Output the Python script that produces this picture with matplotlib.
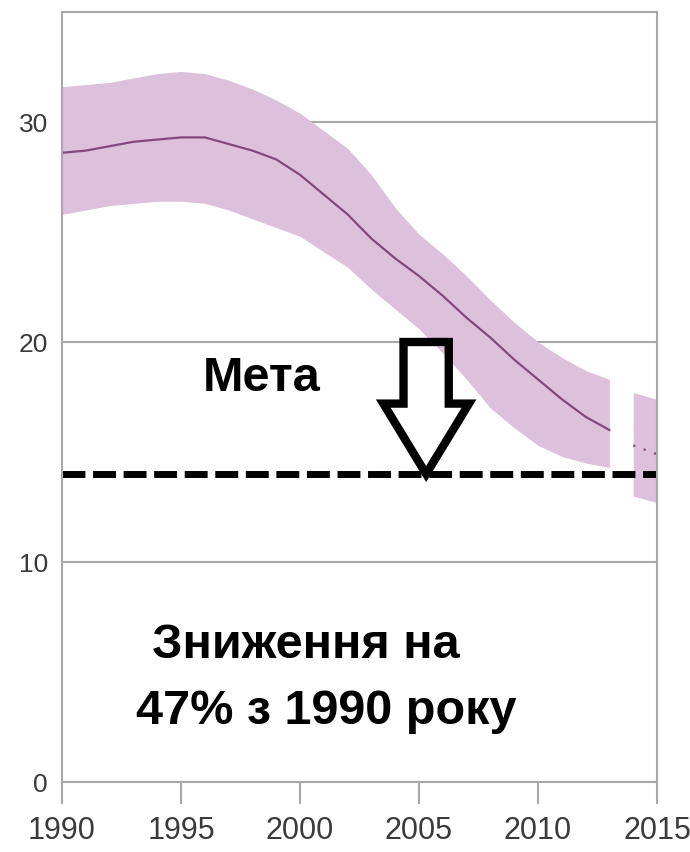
import matplotlib
matplotlib.use("Agg")
import matplotlib.pyplot as plt
from matplotlib.patches import FancyArrow

# data
years = [1990, 1991, 1992, 1993, 1994, 1995, 1996, 1997, 1998, 1999, 2000, 2001,
         2002, 2003, 2004, 2005, 2006, 2007, 2008, 2009, 2010, 2011, 2012, 2013]
rate = [28.6, 28.7, 28.9, 29.1, 29.2, 29.3, 29.3, 29.0, 28.7, 28.3, 27.6, 26.7,
        25.8, 24.7, 23.8, 23.0, 22.1, 21.1, 20.2, 19.2, 18.3, 17.4, 16.6, 16.0]
upper = [31.6, 31.7, 31.8, 32.0, 32.2, 32.3, 32.2, 31.9, 31.5, 31.0, 30.4, 29.6,
         28.8, 27.6, 26.1, 24.9, 24.0, 23.0, 21.9, 20.9, 20.0, 19.3, 18.7, 18.3]
lower = [25.8, 26.0, 26.2, 26.3, 26.4, 26.4, 26.3, 26.0, 25.6, 25.2, 24.8, 24.1,
         23.4, 22.4, 21.5, 20.6, 19.5, 18.3, 17.0, 16.1, 15.3, 14.8, 14.5, 14.3]

proj_years = [2014, 2015]
proj_rate = [15.3, 14.9]
proj_upper = [17.7, 17.4]
proj_lower = [13.0, 12.7]

target = 14
xticks = [1990, 1995, 2000, 2005, 2010, 2015]
yticks = [0, 10, 20, 30]

band_col = '#dcc0dc'
line_col = '#824a7c'
grid_col = '#a8a8a8'
txt_kw = dict(family='Liberation Sans', fontsize=35, weight='bold')

fig = plt.figure(figsize=(6.9, 8.53), dpi=100)
ax = fig.add_axes([62 / 690, 1 - 783 / 853, (657 - 62) / 690, (783 - 13) / 853])

ax.fill_between(years, lower, upper, color=band_col, lw=0)
ax.plot(years, rate, color=line_col, lw=1.6)
ax.fill_between(proj_years, proj_lower, proj_upper, color=band_col, lw=0)
ax.plot(proj_years, proj_rate, color=line_col, lw=1.6, ls=(0, (1, 4)))

# target line + hollow arrow
ax.axhline(target, color='black', lw=5, dashes=(3.3, 1.1))
arrow = FancyArrow(2005.3, 20.0, 0, -(20.0 - target), width=1.9, head_width=3.6,
                   head_length=3.2, length_includes_head=True, fill=False,
                   ec='black', lw=6, joinstyle='miter')
ax.add_patch(arrow)

ax.text(1998.4, 18.4, 'Мета', ha='center', va='center', **txt_kw)
ax.text(2000.25, 5.7, 'Зниження на', ha='center', va='baseline', **txt_kw)
ax.text(2001.1, 2.7, '47% з 1990 року', ha='center', va='baseline', **txt_kw)

ax.set_xlim(1990, 2015)
ax.set_ylim(0, 35)
ax.set_xticks(xticks)
ax.set_yticks(yticks)
ax.grid(axis='y', color=grid_col, lw=1.5)
ax.set_axisbelow(True)
for s in ax.spines.values():
    s.set_color(grid_col)
    s.set_linewidth(1.5)

ax.tick_params(axis='x', length=16, width=1.5, color=grid_col, pad=8,
               labelsize=22, labelcolor='#3a3a3a')
ax.tick_params(axis='y', length=0, pad=10, labelsize=19, labelcolor='#3a3a3a')
for lab in ax.get_xticklabels() + ax.get_yticklabels():
    lab.set_family('Liberation Sans')

fig.savefig('out.png', dpi=100)
